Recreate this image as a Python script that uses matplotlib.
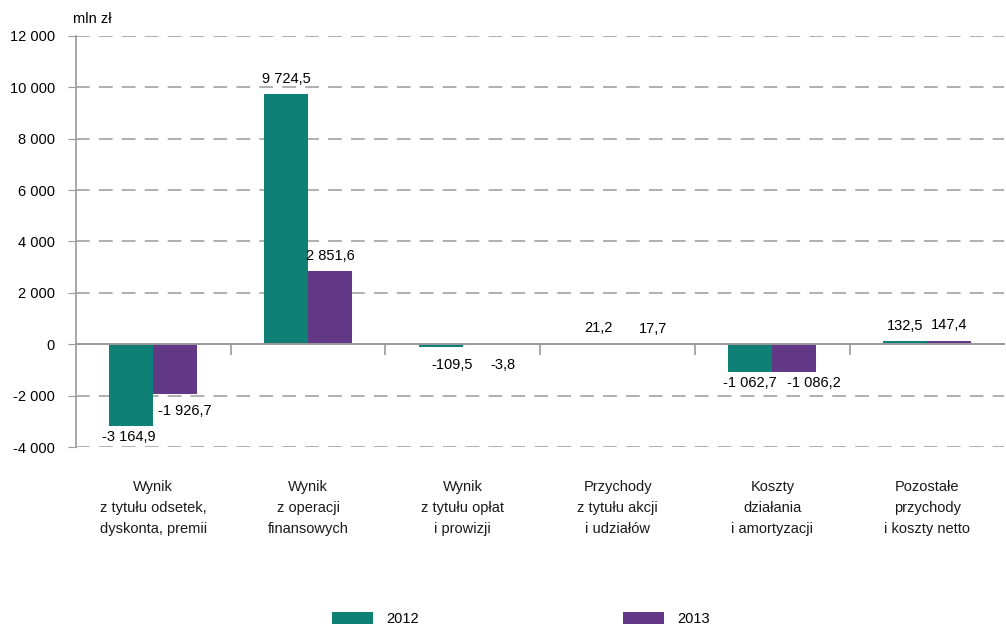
# Wyniki - porównanie 2012 i 2013
import numpy as np
import matplotlib.pyplot as plt

plt.rcParams['font.family'] = ['Liberation Sans', 'DejaVu Sans']

# Dane
categories = ["Wynik\nz tytułu odsetek,\ndyskonta, premii",
              "Wynik\nz operacji\nfinansowych",
              "Wynik\nz tytułu opłat\ni prowizji",
              "Przychody\nz tytułu akcji\ni udziałów",
              "Koszty\ndziałania\ni amortyzacji",
              "Pozostałe\nprzychody\ni koszty netto"]
values_2012 = [-3164.9, 9724.5, -109.5, 21.2, -1062.7, 132.5]
values_2013 = [-1926.7, 2851.6, -3.8, 17.7, -1086.2, 147.4]
labels_2012 = ["-3 164,9", "9 724,5", "-109,5", "21,2", "-1 062,7", "132,5"]
labels_2013 = ["-1 926,7", "2 851,6", "-3,8", "17,7", "-1 086,2", "147,4"]
y_ticks = [-4000, -2000, 0, 2000, 4000, 6000, 8000, 10000, 12000]
y_tick_labels = ["-4 000", "-2 000", "0", "2 000", "4 000", "6 000", "8 000", "10 000", "12 000"]

teal = '#0E8075'
purple = '#633886'
gray = '#9A9A9A'

fig = plt.figure(figsize=(10.06, 6.28), dpi=100)
ax = fig.add_axes([0.0755, 0.288, 0.923, 0.655])

x = np.arange(len(categories))
w = 0.285
bars1 = ax.bar(x - w / 2, values_2012, w, color=teal, label='2012', zorder=3)
bars2 = ax.bar(x + w / 2, values_2013, w, color=purple, label='2013', zorder=3)

ax.set_xlim(-0.5, len(categories) - 0.5)
ax.set_ylim(-4000, 12000)
ax.set_yticks(y_ticks)
ax.set_yticklabels(y_tick_labels, fontsize=10.5)
ax.tick_params(axis='y', length=6, color=gray, pad=9)

# siatka przerywana
for yt in y_ticks:
    if yt != 0:
        ax.axhline(yt, color=gray, lw=1.1, ls=(0, (9, 6)), zorder=1)

for s in ['top', 'right']:
    ax.spines[s].set_visible(False)
ax.spines['left'].set_color(gray)
ax.spines['left'].set_linewidth(1.2)
ax.spines['bottom'].set_position(('data', 0))
ax.spines['bottom'].set_color(gray)
ax.spines['bottom'].set_linewidth(1.4)
ax.spines['bottom'].set_zorder(4)
ax.set_xticks(np.arange(0.5, len(categories) - 1, 1))
ax.set_xticklabels([])
ax.tick_params(axis='x', length=8, color=gray, width=1.2, direction='out')

# etykiety kategorii
for i, c in enumerate(categories):
    ax.text(i, -0.08, c, transform=ax.get_xaxis_transform(), ha='center', va='top',
            fontsize=10.5, linespacing=1.62, color='#1a1a1a')

# etykiety wartości
def add_labels(bars, labels, dx, dy):
    for b, lab, d, e in zip(bars, labels, dx, dy):
        h = b.get_height()
        if h >= 0:
            ax.annotate(lab, (b.get_x() + b.get_width() / 2, h), xytext=(d, 6 + e),
                        textcoords='offset points', ha='center', va='bottom', fontsize=10.5)
        else:
            ax.annotate(lab, (b.get_x() + b.get_width() / 2, h), xytext=(d, -3 - e),
                        textcoords='offset points', ha='center', va='top', fontsize=10.5)

add_labels(bars1, labels_2012, [-2, 0, 8, 2, 0, 0], [0, 0, 5, 0, 0, 0])
add_labels(bars2, labels_2013, [7, 0, 13, 10, 14, 0], [4, 0, 7, 0, 0, 0])

ax.text(-0.003, 1.025, "mln zł", transform=ax.transAxes, fontsize=10.5, va='bottom')

fig.legend(loc='lower center', bbox_to_anchor=(0.518, -0.018), ncol=2, frameon=False,
           fontsize=10.5, handlelength=2.8, handleheight=0.9, handletextpad=0.9,
           columnspacing=14)

plt.savefig('out.png', dpi=100)
